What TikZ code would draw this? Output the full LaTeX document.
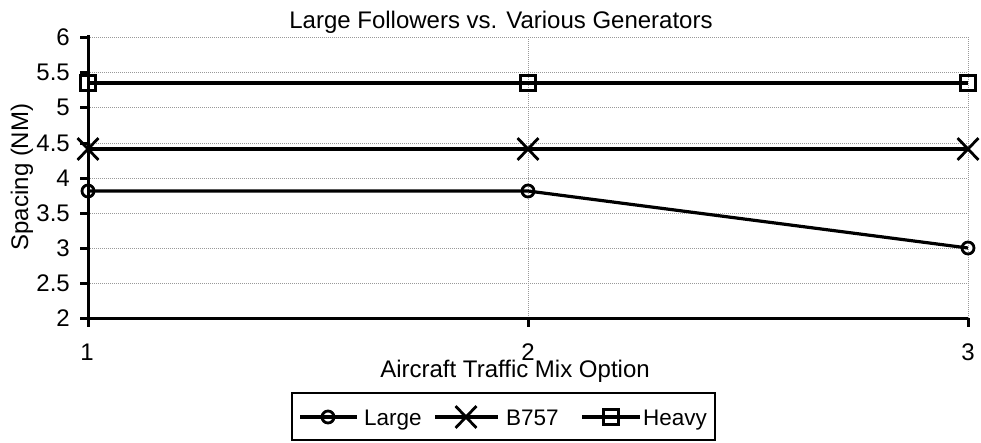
\documentclass[tikz,border=0pt]{standalone}
\usepackage{fontspec}
\setmainfont{Liberation Sans}
\usetikzlibrary{shapes.misc}

\begin{document}
\begin{tikzpicture}[x=1pt, y=-1pt,
    gridLine/.style={gray!80, line width=1pt, dash pattern=on 1pt off 1pt},
    axisLine/.style={black, line width=3pt},
    dataLine/.style={black, line width=3.2pt},
    markCircle/.style={circle, draw, line width=2.8pt, inner sep=0pt, minimum size=12pt},
    markCross/.style={cross out, draw, line width=2.8pt, inner sep=0pt, minimum width=18pt, minimum height=19pt},
    markSquare/.style={rectangle, draw, line width=2.8pt, inner sep=0pt, minimum size=15pt},
    labelStyle/.style={inner sep=0pt, font=\fontsize{24}{28}\selectfont},
    legendText/.style={inner sep=0pt, anchor=base west, font=\fontsize{22.5}{27}\selectfont}]
    \useasboundingbox (0,0) rectangle (981,442);

    % grid
    \draw[gridLine] (88,37) -- (968,37);
    \draw[gridLine] (88,72) -- (968,72);
    \draw[gridLine] (88,107) -- (968,107);
    \draw[gridLine] (88,143) -- (968,143);
    \draw[gridLine] (88,178) -- (968,178);
    \draw[gridLine] (88,213) -- (968,213);
    \draw[gridLine] (88,248) -- (968,248);
    \draw[gridLine] (88,283) -- (968,283);
    \draw[gridLine] (528,37) -- (528,318);
    \draw[gridLine] (968,37) -- (968,318);

    % axes and ticks
    \draw[axisLine] (88,35) -- (88,318) -- (968,318);
    \draw[axisLine] (80,37) -- (88,37);
    \draw[axisLine] (80,72) -- (88,72);
    \draw[axisLine] (80,107) -- (88,107);
    \draw[axisLine] (80,143) -- (88,143);
    \draw[axisLine] (80,178) -- (88,178);
    \draw[axisLine] (80,213) -- (88,213);
    \draw[axisLine] (80,248) -- (88,248);
    \draw[axisLine] (80,283) -- (88,283);
    \draw[axisLine] (80,318) -- (88,318);
    \draw[axisLine] (88,318) -- (88,327);
    \draw[axisLine] (528,318) -- (528,327);
    \draw[axisLine] (968,318) -- (968,327);

    \node[labelStyle, anchor=east](y60) at (70,37) {6};
    \node[labelStyle, anchor=east](y55) at (70,72) {5.5};
    \node[labelStyle, anchor=east](y50) at (70,107) {5};
    \node[labelStyle, anchor=east](y45) at (70,143) {4.5};
    \node[labelStyle, anchor=east](y40) at (70,178) {4};
    \node[labelStyle, anchor=east](y35) at (70,213) {3.5};
    \node[labelStyle, anchor=east](y30) at (70,248) {3};
    \node[labelStyle, anchor=east](y25) at (70,283) {2.5};
    \node[labelStyle, anchor=east](y20) at (70,318) {2};
    \node[labelStyle](x1) at (87,352) {1};
    \node[labelStyle](x2) at (528,352) {2};
    \node[labelStyle](x3) at (968,352) {3};

    \node[labelStyle, anchor=base](title) at (501,28) {Large Followers vs. Various Generators};
    \node[labelStyle, anchor=base](xTitle) at (515,377) {Aircraft Traffic Mix Option};
    \node[labelStyle, rotate=90](yTitle) at (22,177) {Spacing (NM)};

    % series
    \node[markCircle](l1) at (88,191) {};
    \node[markCircle](l2) at (528,191) {};
    \node[markCircle](l3) at (968,248) {};
    \node[markCross](b1) at (88,149) {};
    \node[markCross](b2) at (528,149) {};
    \node[markCross](b3) at (968,149) {};
    \node[markSquare](h1) at (88,83) {};
    \node[markSquare](h2) at (528,83) {};
    \node[markSquare](h3) at (968,83) {};

    \draw[dataLine] (l1.center) -- (l2.center) -- (l3.center);
    \draw[dataLine] (b1.center) -- (b2.center) -- (b3.center);
    \draw[dataLine] (h1.center) -- (h2.center) -- (h3.center);

    % legend
    \node[draw, line width=2.8pt, minimum width=423pt, minimum height=47pt](legend) at (503.5,416.5) {};
    \coordinate (lg1a) at (300,417);
    \coordinate (lg1b) at (357,417);
    \coordinate (lg2a) at (435,417);
    \coordinate (lg2b) at (498,417);
    \coordinate (lg3a) at (582,417);
    \coordinate (lg3b) at (640,417);
    \node[markCircle](lg1) at (328,417) {};
    \node[markCross](lg2) at (466,417) {};
    \node[markSquare](lg3) at (611,417) {};
    \draw[dataLine] (lg1a) -- (lg1b);
    \draw[dataLine] (lg2a) -- (lg2b);
    \draw[dataLine] (lg3a) -- (lg3b);
    \node[legendText](lgt1) at (364,425) {Large};
    \node[legendText](lgt2) at (506,425) {B757};
    \node[legendText](lgt3) at (643,425) {Heavy};
\end{tikzpicture}
\end{document}
